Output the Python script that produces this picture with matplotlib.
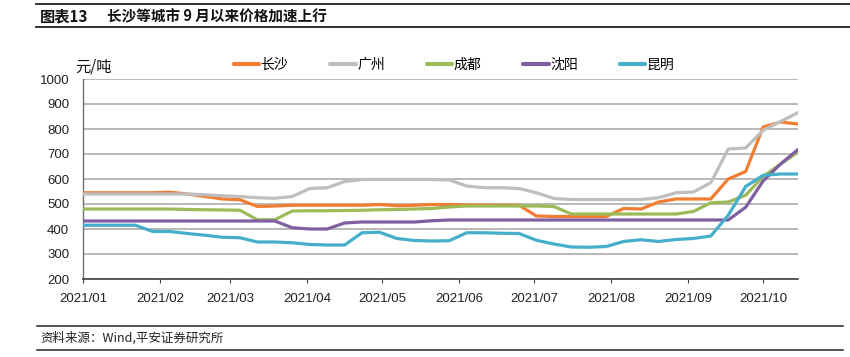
import matplotlib
matplotlib.use("Agg")
import matplotlib.pyplot as plt
import matplotlib.dates as mdates
from matplotlib.lines import Line2D
import pandas as pd

plt.rcParams['font.family'] = ['Liberation Sans', 'Noto Sans CJK SC']

dates = pd.date_range('2021-01-01', periods=42, freq='7D')

changsha = [545, 545, 545, 545, 545, 547, 540, 530, 520, 517, 490, 492,
            495, 495, 495, 495, 495, 498, 493, 495, 498, 498,
            496, 496, 495, 495, 452, 450, 450, 450, 450,
            482, 480, 508, 520, 520, 520, 600, 630, 808, 828, 820]
guangzhou = [540, 540, 540, 540, 540, 540, 540,
             537, 533, 530, 525, 523, 530, 562, 565, 590, 598, 598, 598, 598, 598,
             596, 572, 565, 565, 562, 545, 522, 518, 518, 518, 518, 518, 525, 545,
             548, 585, 720, 724, 795, 830, 865]
chengdu = [480, 480, 480, 480, 480, 480,
           478, 477, 476, 475, 437, 437, 472, 473, 473, 474, 475, 477, 478, 480,
           482, 488, 492, 492, 492, 492, 492, 490,
           460, 460, 460, 460, 460, 460, 460,
           470, 505, 508, 535, 610, 660, 708]
shenyang = [432] * 12 + [405, 400, 400, 424, 428, 428, 428, 428, 433] + [436] * 17 + \
           [487, 592, 660, 718]
kunming = [415, 415, 415, 415,
           390, 390, 382, 375, 367, 365, 348, 348, 345, 338, 336, 336, 385, 387,
           362, 354, 352, 353, 385, 385, 383, 382, 355, 340, 328, 327, 330, 350,
           357, 350, 358, 362, 372, 455, 570, 615, 620, 620]

series = [
    ('长沙', changsha, '#F07D32'),
    ('广州', guangzhou, '#BEBEBE'),
    ('成都', chengdu, '#9BBB59'),
    ('沈阳', shenyang, '#7F5FA1'),
    ('昆明', kunming, '#45AECA'),
]

yticks = [200, 300, 400, 500, 600, 700, 800, 900, 1000]

W, H = 850, 357
fig = plt.figure(figsize=(8.5, 3.57), dpi=100)
ax = fig.add_axes([83 / W, 1 - 279 / H, (798 - 83) / W, (279 - 79) / H])

for name, vals, col in series:
    ax.plot(dates, vals, color=col, lw=2.3, label=name, solid_joinstyle='round',
            solid_capstyle='round', zorder=3)

ax.set_ylim(200, 1000)
ax.set_yticks(yticks)
ax.set_xlim(pd.Timestamp('2021-01-01'), pd.Timestamp('2021-10-15'))
ax.xaxis.set_major_locator(mdates.MonthLocator())
ax.xaxis.set_major_formatter(mdates.DateFormatter('%Y/%m'))

ax.grid(axis='y', color='#A6A6A6', lw=1.1, zorder=0)
for s in ['top', 'right']:
    ax.spines[s].set_visible(False)
ax.spines['left'].set_color('#707070')
ax.spines['left'].set_linewidth(1.0)
ax.spines['bottom'].set_color('#404040')
ax.spines['bottom'].set_linewidth(1.2)
ax.tick_params(axis='y', length=0, pad=10, labelsize=9.5, labelcolor='#222222')
ax.tick_params(axis='x', length=3, width=0.8, color='#404040', pad=7,
               labelsize=9.5, labelcolor='#222222')

# unit label
fig.text(75 / W, 1 - 67 / H, '元/吨', fontsize=11, va='center', ha='left',
         family=['Noto Sans CJK SC', 'DejaVu Sans'], color='#111111')

# legend
leg = fig.legend(loc='center', bbox_to_anchor=(454 / W, 1 - 65 / H), ncol=5,
                 frameon=False, prop={'family': 'Noto Sans CJK SC', 'size': 10},
                 handlelength=1.85, handletextpad=0.1, columnspacing=3.0,
                 borderaxespad=0)
for h in leg.get_lines():
    h.set_linewidth(3)

# title block
fig.add_artist(Line2D([36 / W, 1.0], [1 - 4 / H, 1 - 4 / H], color='#222222', lw=1.3))
fig.add_artist(Line2D([36 / W, 1.0], [1 - 27 / H, 1 - 27 / H], color='#222222', lw=1.3))
fig.text(40 / W, 1 - 16 / H, '图表13', fontsize=11, weight='bold', va='center',
         family=['Noto Sans CJK SC', 'DejaVu Sans'], color='#111111')
fig.text(107 / W, 1 - 16 / H, '长沙等城市 9 月以来价格加速上行', fontsize=10.5,
         weight='bold', va='center', family=['Noto Sans CJK SC', 'DejaVu Sans'],
         color='#111111')

# source block
fig.add_artist(Line2D([37 / W, 843 / W], [1 - 326 / H, 1 - 326 / H], color='#222222', lw=1.1))
fig.add_artist(Line2D([37 / W, 843 / W], [1 - 350 / H, 1 - 350 / H], color='#222222', lw=1.1))
fig.text(40 / W, 1 - 338 / H, '资料来源：Wind,平安证券研究所', fontsize=9, va='center',
         family=['Noto Sans CJK SC', 'DejaVu Sans'], color='#222222')

fig.savefig('out.png', dpi=100)
